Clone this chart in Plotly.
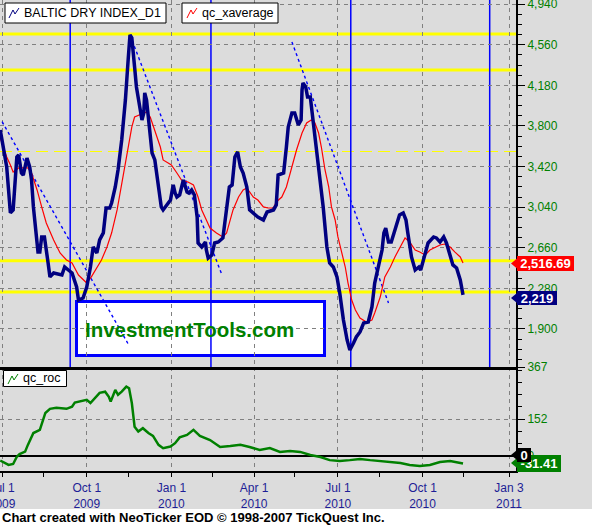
import plotly.graph_objects as go

# ---------------- data ----------------
bdi_dates = [
    "2009-06-29", "2009-07-02", "2009-07-06", "2009-07-08", "2009-07-10", "2009-07-13", "2009-07-15",
    "2009-07-17", "2009-07-19", "2009-07-22", "2009-07-24", "2009-07-28", "2009-07-31", "2009-08-02",
    "2009-08-04", "2009-08-06", "2009-08-09", "2009-08-11", "2009-08-13", "2009-08-16", "2009-08-18",
    "2009-08-20", "2009-08-22", "2009-08-26", "2009-09-04", "2009-09-07", "2009-09-11", "2009-09-15",
    "2009-09-20", "2009-09-22", "2009-09-27", "2009-10-01", "2009-10-05", "2009-10-08", "2009-10-12",
    "2009-10-15", "2009-10-19", "2009-10-22", "2009-10-26", "2009-10-28", "2009-11-01", "2009-11-04",
    "2009-11-08", "2009-11-12", "2009-11-15", "2009-11-17", "2009-11-19", "2009-11-21", "2009-11-22",
    "2009-11-24", "2009-11-28", "2009-11-30", "2009-12-02", "2009-12-03", "2009-12-05", "2009-12-07",
    "2009-12-11", "2009-12-14", "2009-12-18", "2009-12-21", "2009-12-23", "2009-12-27", "2009-12-31",
    "2010-01-03", "2010-01-05", "2010-01-07", "2010-01-10", "2010-01-14", "2010-01-18", "2010-01-20",
    "2010-01-23", "2010-01-26", "2010-01-29", "2010-01-30", "2010-02-03", "2010-02-07", "2010-02-08",
    "2010-02-10", "2010-02-14", "2010-02-17", "2010-02-21", "2010-02-26", "2010-03-02", "2010-03-05",
    "2010-03-08", "2010-03-09", "2010-03-11", "2010-03-14", "2010-03-17", "2010-03-20", "2010-03-24",
    "2010-03-27", "2010-03-31", "2010-04-05", "2010-04-11", "2010-04-15", "2010-04-22", "2010-04-25",
    "2010-04-27", "2010-05-03", "2010-05-06", "2010-05-08", "2010-05-12", "2010-05-15", "2010-05-19",
    "2010-05-22", "2010-05-23", "2010-05-24", "2010-05-27", "2010-05-29", "2010-06-01", "2010-06-04",
    "2010-06-08", "2010-06-12", "2010-06-15", "2010-06-19", "2010-06-22", "2010-06-26", "2010-06-30",
    "2010-07-03", "2010-07-07", "2010-07-11", "2010-07-14", "2010-07-18", "2010-07-21", "2010-07-25",
    "2010-07-29", "2010-08-03", "2010-08-07", "2010-08-10", "2010-08-14", "2010-08-18", "2010-08-20",
    "2010-08-22", "2010-08-25", "2010-08-28", "2010-09-01", "2010-09-03", "2010-09-06", "2010-09-10",
    "2010-09-13", "2010-09-15", "2010-09-19", "2010-09-23", "2010-09-27", "2010-09-29", "2010-10-03",
    "2010-10-07", "2010-10-13", "2010-10-16", "2010-10-20", "2010-10-24", "2010-10-27", "2010-10-31",
    "2010-11-03", "2010-11-07", "2010-11-11", "2010-11-14",
]
bdi_values = [
    3762, 3603, 3416, 3201, 2986, 3014, 3323,
    3510, 3529, 3360, 3341, 3500, 3416, 3294,
    3042, 2892, 2621, 2621, 2761, 2761, 2611,
    2518, 2387, 2424, 2405, 2480, 2452, 2424,
    2293, 2171, 2190, 2293, 2480, 2667, 2611,
    2733, 2799, 3032, 3032, 3079, 3229, 3388,
    3669, 4043, 4418, 4652, 4624, 4483, 4352,
    4165, 3950, 3856, 3922, 4109, 4043, 3856,
    3547, 3482, 3229, 3042, 3014, 3061, 3107,
    3248, 3173, 3135, 3154, 3294, 3182, 3173,
    3201, 3154, 2948, 2705, 2667, 2714, 2639,
    2564, 2592, 2705, 2714, 2752, 3042, 3229,
    3248, 3323, 3510, 3557, 3416, 3360, 3229,
    3014, 2986, 2948, 2920, 2995, 3014, 3061,
    3341, 3360, 3603, 3791, 3922, 3922, 3809,
    3856, 4137, 4202, 4165, 4071, 4071, 3856,
    3575, 3323, 3042, 2667, 2518, 2480, 2387,
    2237, 1984, 1797, 1703, 1769, 1825, 1872,
    1956, 1965, 2106, 2330, 2480, 2639, 2798,
    2845, 2714, 2714, 2826, 2892, 2967, 2986,
    2920, 2799, 2574, 2452, 2480, 2452, 2593,
    2705, 2761, 2752, 2714, 2761, 2705, 2574,
    2499, 2471, 2359, 2219,
]

avg_dates = [
    "2009-06-29", "2009-07-02", "2009-07-06", "2009-07-10", "2009-07-13", "2009-07-19", "2009-07-24",
    "2009-07-29", "2009-08-02", "2009-08-08", "2009-08-13", "2009-08-18", "2009-08-26", "2009-09-02",
    "2009-09-09", "2009-09-15", "2009-09-22", "2009-10-01", "2009-10-06", "2009-10-12", "2009-10-17",
    "2009-10-23", "2009-10-28", "2009-11-03", "2009-11-08", "2009-11-13", "2009-11-19", "2009-11-22",
    "2009-11-28", "2009-12-05", "2009-12-09", "2009-12-14", "2009-12-20", "2009-12-23", "2010-01-01",
    "2010-01-07", "2010-01-12", "2010-01-19", "2010-01-25", "2010-01-30", "2010-02-03", "2010-02-08",
    "2010-02-12", "2010-02-19", "2010-02-26", "2010-03-02", "2010-03-06", "2010-03-09", "2010-03-15",
    "2010-03-20", "2010-03-24", "2010-03-27", "2010-03-31", "2010-04-05", "2010-04-11", "2010-04-16",
    "2010-04-22", "2010-04-25", "2010-05-01", "2010-05-06", "2010-05-12", "2010-05-17", "2010-05-23",
    "2010-05-28", "2010-06-02", "2010-06-06", "2010-06-10", "2010-06-13", "2010-06-17", "2010-06-21",
    "2010-06-24", "2010-06-28", "2010-07-01", "2010-07-05", "2010-07-09", "2010-07-12", "2010-07-16",
    "2010-07-20", "2010-07-25", "2010-08-01", "2010-08-07", "2010-08-10", "2010-08-16", "2010-08-21",
    "2010-08-27", "2010-09-01", "2010-09-06", "2010-09-12", "2010-09-17", "2010-09-23", "2010-09-28",
    "2010-10-04", "2010-10-09", "2010-10-15", "2010-10-20", "2010-10-25", "2010-10-31", "2010-11-05",
    "2010-11-11", "2010-11-14",
]
avg_values = [
    3688, 3603, 3510, 3435, 3369, 3407, 3407,
    3407, 3360, 3201, 3042, 2892, 2733, 2611,
    2546, 2518, 2405, 2330, 2387, 2480, 2546,
    2667, 2798, 3014, 3267, 3510, 3791, 3884,
    3903, 3931, 3884, 3763, 3603, 3482, 3435,
    3360, 3294, 3276, 3248, 3135, 3014, 2920,
    2845, 2798, 2761, 2798, 2920, 3014, 3135,
    3201, 3220, 3182, 3135, 3107, 3042, 3032,
    3032, 3089, 3135, 3229, 3416, 3575, 3734,
    3828, 3856, 3828, 3734, 3603, 3388, 3229,
    3042, 2920, 2761, 2611, 2480, 2330, 2171,
    2078, 2003, 1965, 1984, 2050, 2199, 2387,
    2480, 2574, 2658, 2752, 2714, 2639, 2621,
    2593, 2639, 2667, 2686, 2695, 2667, 2621,
    2574, 2516.69,
]

roc_dates = [
    "2009-06-29", "2009-07-02", "2009-07-08", "2009-07-13", "2009-07-17", "2009-07-20", "2009-07-26",
    "2009-07-29", "2009-08-04", "2009-08-11", "2009-08-17", "2009-08-22", "2009-08-29", "2009-09-09",
    "2009-09-15", "2009-09-18", "2009-09-26", "2009-10-01", "2009-10-05", "2009-10-10", "2009-10-15",
    "2009-10-21", "2009-10-25", "2009-10-27", "2009-11-01", "2009-11-04", "2009-11-08", "2009-11-13",
    "2009-11-16", "2009-11-19", "2009-11-22", "2009-11-26", "2009-12-01", "2009-12-07", "2009-12-12",
    "2009-12-18", "2009-12-23", "2009-12-31", "2010-01-05", "2010-01-10", "2010-01-18", "2010-01-25",
    "2010-02-01", "2010-02-12", "2010-02-23", "2010-03-06", "2010-03-17", "2010-03-27", "2010-04-07",
    "2010-04-18", "2010-04-29", "2010-05-10", "2010-05-21", "2010-06-01", "2010-06-12", "2010-06-22",
    "2010-07-03", "2010-07-14", "2010-07-25", "2010-08-05", "2010-08-16", "2010-08-27", "2010-09-07",
    "2010-09-17", "2010-09-28", "2010-10-09", "2010-10-20", "2010-10-31", "2010-11-11", "2010-11-14",
]
roc_values = [
    -19, -24, -37, -33, -3, 8, 18,
    46, 95, 108, 178, 195, 199, 195,
    204, 221, 229, 232, 219, 240, 261,
    266, 245, 225, 273, 253, 266, 287,
    280, 219, 121, 101, 115, 95, 83,
    46, 32, 39, 53, 77, 87, 108,
    83, 66, 37, 41, 46, 37, 25,
    33, 17, 21, 17, 4, -4, -17,
    -21, -17, -12, -17, -21, -25, -29,
    -37, -41, -37, -25, -21, -29, -31.41,
]

trend_start_dates = ["2009-07-01", "2009-11-17", "2010-05-12"]
trend_start_values = [3840, 4652, 4586]
trend_end_dates = ["2009-11-15", "2010-02-25", "2010-08-25"]
trend_end_values = [1760, 2405, 2143]

cycle_line_dates = ["2009-09-13", "2010-02-13", "2010-07-15", "2010-12-13"]
solid_levels = [4661, 4324, 2539, 2246]
dashed_levels = [3561]

x_tick_dates = ["2009-07-01", "2009-10-01", "2010-01-01", "2010-04-01", "2010-07-01", "2010-10-01", "2011-01-03"]
x_tick_labels = ["Jul 1<br>2009", "Oct 1<br>2009", "Jan 1<br>2010", "Apr 1<br>2010",
                 "Jul 1<br>2010", "Oct 1<br>2010", "Jan 3<br>2011"]
x_minor_dates = ["2009-08-15", "2009-11-15", "2010-02-15", "2010-05-15", "2010-08-15", "2010-11-15"]
x_range = ["2009-06-28 17:00", "2011-01-10 14:00"]

main_ticks = [1900, 2280, 2660, 3040, 3420, 3800, 4180, 4560, 4940]
main_range = [1544, 4979]
roc_ticks = [0, 152, 367]
roc_range = [-62, 368]

bdi_last = 2219
avg_last = 2516.69
roc_last = -31.41
roc_zero = 0

# ---------------- layout helpers ----------------
FONT = "Arial, 'Liberation Sans', sans-serif"
PR, PB = 516, 471  # plot area right / bottom in pixels (left=0, top=0)


def fx(x):
    return x / PR


def fy(y):
    return (PB - y) / PB


def path(points, close=False):
    s = "M " + " L ".join(f"{fx(x):.5f},{fy(y):.5f}" for x, y in points)
    return s + (" Z" if close else "")


SPLIT = fy(367)

fig = go.Figure()

# trend lines (dotted)
for sd, sv, ed, ev in zip(trend_start_dates, trend_start_values, trend_end_dates, trend_end_values):
    fig.add_trace(go.Scatter(x=[sd, ed], y=[sv, ev], xaxis="x2", yaxis="y", mode="lines",
                             line=dict(color="#0000FF", width=1.4, dash="3px,3px"), hoverinfo="skip"))

fig.add_trace(go.Scatter(x=avg_dates, y=avg_values, xaxis="x2", yaxis="y", mode="lines",
                         line=dict(color="#FF0000", width=1.2), name="qc_xaverage"))
fig.add_trace(go.Scatter(x=bdi_dates, y=bdi_values, xaxis="x2", yaxis="y", mode="lines",
                         line=dict(color="#000080", width=3.5), name="BALTIC DRY INDEX_D1"))
fig.add_trace(go.Scatter(x=roc_dates, y=roc_values, xaxis="x", yaxis="y2", mode="lines",
                         line=dict(color="#008000", width=2.5), name="qc_roc"))

shapes = []
# footer band
shapes.append(dict(type="rect", xref="paper", yref="paper", x0=fx(0), x1=fx(592), y0=fy(526), y1=fy(509),
                   fillcolor="white", line=dict(width=0), layer="above"))
# watermark box
shapes.append(dict(type="rect", xref="paper", yref="paper", x0=fx(76.5), x1=fx(324.5), y0=fy(355.5), y1=fy(301.5),
                   fillcolor="white", line=dict(color="#0000FF", width=3), layer="below"))
# horizontal levels
for lv in solid_levels:
    shapes.append(dict(type="line", xref="x2", yref="y", x0=x_range[0], x1=x_range[1], y0=lv, y1=lv,
                       line=dict(color="#FFFF00", width=3), layer="below"))
for lv in dashed_levels:
    shapes.append(dict(type="line", xref="x2", yref="y", x0=x_range[0], x1=x_range[1], y0=lv, y1=lv,
                       line=dict(color="#FFFF00", width=1, dash="12px,6px"), layer="below"))
# vertical cycle lines
for d in cycle_line_dates:
    shapes.append(dict(type="line", xref="x2", yref="y", x0=d, x1=d, y0=main_range[0], y1=main_range[1],
                       line=dict(color="#0000FF", width=1.5), layer="below"))
# legend boxes
for (x0, y0, x1, y1) in [(5, 3, 166, 23), (182, 3, 278, 23), (3.5, 370.5, 66.5, 386.5)]:
    shapes.append(dict(type="rect", xref="paper", yref="paper", x0=fx(x0), x1=fx(x1), y0=fy(y1), y1=fy(y0),
                       fillcolor="white", line=dict(color="black", width=1), layer="above"))
for pts, col in [([(9, 18), (13, 10), (15, 14), (19, 8)], "#000080"),
                 ([(187, 18), (191, 10), (193, 14), (197, 8)], "#FF0000"),
                 ([(8, 384), (12, 376), (14, 380), (18, 374)], "#008000")]:
    shapes.append(dict(type="path", xref="paper", yref="paper", path=path(pts),
                       line=dict(color=col, width=1), layer="above"))
# value-label arrows
for (yc, col) in [(263.5, "#FF0000"), (298, "#000080"), (463, "#008000"), (455, "black")]:
    shapes.append(dict(type="path", xref="paper", yref="paper",
                       path=path([(517, yc - 5), (511, yc), (517, yc + 5)], close=True),
                       fillcolor=col, line=dict(width=0), layer="above"))

annotations = []


def text(x, y, s, size=13, color="black", weight="normal", xanchor="left"):
    annotations.append(dict(xref="paper", yref="paper", x=fx(x), y=fy(y), text=s, showarrow=False,
                            xanchor=xanchor, yanchor="middle",
                            font=dict(family=FONT, size=size, color=color, weight=weight)))


text(22, 13.5, "BALTIC DRY INDEX_D1", size=12.5)
text(200, 13.5, "qc_xaverage", size=12.5)
text(21, 378.5, "qc_roc", size=12.5)
text(189, 329, "InvestmentTools.com", size=20.5, color="#008000", weight="bold", xanchor="center")
text(0, 517.5, "Chart created with NeoTicker EOD © 1998-2007 TickQuest Inc.", size=13, weight="bold")


def value_box(x, yc, w, h, s, bg):
    annotations.append(dict(xref="paper", yref="paper", x=fx(x), y=fy(yc), text=s, showarrow=False,
                            xanchor="left", yanchor="middle", width=w, height=h, align="center",
                            bgcolor=bg, borderpad=0, borderwidth=0,
                            font=dict(family=FONT, size=13, color="white", weight="bold")))


value_box(517, 263.5, 57, 15, f"{avg_last:,.2f}", "#FF0000")
value_box(517, 298, 40, 14, f"{bdi_last:,}", "#000080")
value_box(517, 463, 44, 17, f"{roc_last:.2f}", "#008000")
value_box(517, 455, 14, 14, f"{roc_zero}", "black")

grid = dict(showgrid=True, gridcolor="#808080", griddash="4px,4px", gridwidth=1)
tickfont_y = dict(family=FONT, size=12, color="#008000")

fig.update_layout(
    width=592, height=526, autosize=False,
    margin=dict(l=0, r=592 - PR, t=0, b=526 - PB, pad=0, autoexpand=False),
    paper_bgcolor="#DCDCDC", plot_bgcolor="#DCDCDC",
    showlegend=False,
    shapes=shapes, annotations=annotations,
    xaxis=dict(domain=[0, 1], anchor="y2", type="date", range=x_range, automargin=False,
               tickmode="array", tickvals=x_tick_dates, ticktext=x_tick_labels,
               ticks="outside", ticklen=4, tickcolor="black", tickwidth=1,
               ticklabeloverflow="allow", ticklabelstandoff=1,
               showline=True, linecolor="black", linewidth=2, zeroline=False,
               tickfont=dict(family=FONT, size=12, color="#1E1E96"),
               minor=dict(tickvals=x_minor_dates, ticks="outside", ticklen=4, tickcolor="black", showgrid=False),
               **grid),
    xaxis2=dict(domain=[0, 1], anchor="y", type="date", range=x_range, matches="x", automargin=False,
                tickmode="array", tickvals=x_tick_dates, showticklabels=False, ticks="",
                showline=True, linecolor="black", linewidth=3, zeroline=False, **grid),
    yaxis=dict(domain=[SPLIT, 1], anchor="x2", side="right", range=main_range, automargin=False,
               tickmode="array", tickvals=main_ticks, ticktext=[f"{v:,}" for v in main_ticks],
               ticks="outside", ticklen=7, tickcolor="black", tickwidth=1,
               ticklabeloverflow="allow",
               showline=True, linecolor="black", linewidth=2, zeroline=False, tickfont=tickfont_y,
               minor=dict(tickmode="linear", tick0=1900, dtick=95, ticks="outside", ticklen=4,
                          tickcolor="black", showgrid=False),
               **grid),
    yaxis2=dict(domain=[0, SPLIT], anchor="x", side="right", range=roc_range, automargin=False,
                tickmode="array", tickvals=roc_ticks, ticktext=[str(v) for v in roc_ticks],
                ticks="outside", ticklen=7, tickcolor="black", tickwidth=1,
                ticklabeloverflow="allow",
                showline=True, linecolor="black", linewidth=2,
                zeroline=True, zerolinecolor="black", zerolinewidth=2, tickfont=tickfont_y,
                minor=dict(tickmode="linear", tick0=0, dtick=152 / 3, ticks="outside", ticklen=4,
                           tickcolor="black", showgrid=False),
                **grid),
)

fig.write_html("out.html", config={"displayModeBar": False},
               post_script="document.body.style.margin='0';")
